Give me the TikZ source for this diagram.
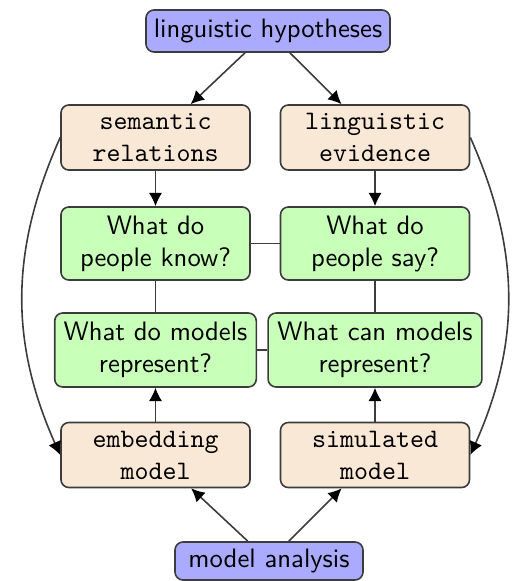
\documentclass[tikz,border=0pt]{standalone}
\usetikzlibrary{arrows.meta}
\definecolor{hypblue}{RGB}{170,170,255}
\definecolor{peach}{RGB}{250,232,214}
\definecolor{lgreen}{RGB}{200,255,185}
\definecolor{edgegray}{RGB}{60,60,60}
\begin{document}
\begin{tikzpicture}[x=0.375pt,y=-0.375pt,
  box/.style={draw=edgegray, line width=0.6pt, rounded corners=3pt, align=center, inner sep=0pt},
  bluebox/.style={box, fill=hypblue, font=\sffamily},
  databox/.style={box, fill=peach, font=\ttfamily, minimum width=70.9pt, minimum height=24.4pt},
  qbox/.style={box, fill=lgreen, font=\sffamily},
  arr/.style={draw=edgegray, line width=0.6pt, -{Latex[length=5pt,width=5pt,fill=black,color=black]}},
  link/.style={draw=edgegray, line width=0.6pt}]
\useasboundingbox (0,0) rectangle (517,581);

\node[bluebox, minimum width=91.5pt, minimum height=15.75pt] (hyp) at (268,31) {linguistic hypotheses};

\node[databox] (sem) at (155.5,137.5) {semantic\\relations};
\node[databox] (evi) at (375,137.5) {linguistic\\evidence};

\node[qbox, minimum width=70.9pt, minimum height=27.4pt] (know) at (155.5,243.5) {What do\\people know?};
\node[qbox, minimum width=70.9pt, minimum height=27.4pt] (say) at (375,243.5) {What do\\people say?};

\node[qbox, minimum width=75.6pt, minimum height=27.75pt] (mrep) at (155.5,350) {What do models\\represent?};
\node[qbox, minimum width=80.2pt, minimum height=27.75pt] (crep) at (375,350) {What can models\\represent?};

\node[databox] (emb) at (155.5,455) {embedding\\model};
\node[databox] (sim) at (375,455) {simulated\\model};

\node[bluebox, minimum width=70.5pt, minimum height=14.25pt] (ana) at (269,561) {model analysis};

\draw[arr] (hyp) -- (sem);
\draw[arr] (hyp) -- (evi);
\draw[arr] (sem) -- (know);
\draw[arr] (evi) -- (say);
\draw[link] (know) -- (say);
\draw[link] (know) -- (mrep);
\draw[link] (say) -- (crep);
\draw[link] (mrep) -- (crep);
\draw[arr] (emb) -- (mrep);
\draw[arr] (sim) -- (crep);
\draw[arr] (ana) -- (emb);
\draw[arr] (ana) -- (sim);
\draw[arr] (sem.west) to[bend right=24] (emb.west);
\draw[arr] (evi.east) to[bend left=24] (sim.east);
\end{tikzpicture}
\end{document}
